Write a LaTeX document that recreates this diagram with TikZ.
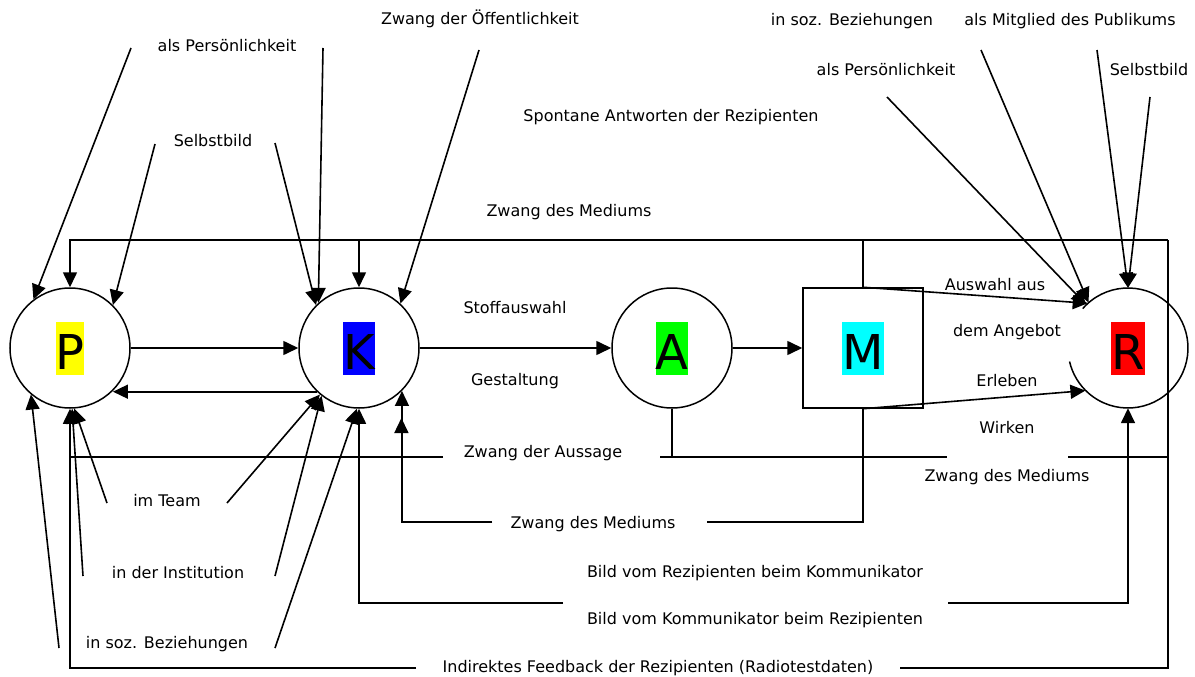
\documentclass[tikz,border=0pt]{standalone}
\usepackage{fontspec}
\setmainfont{DejaVu Sans}
\usetikzlibrary{arrows.meta}
\newcommand{\lblfont}{\fontsize{16}{19}\selectfont}
\newcommand{\bigfont}{\fontsize{48}{56}\selectfont}
\definecolor{cP}{HTML}{FFFF00}
\definecolor{cK}{HTML}{0000FF}
\definecolor{cA}{HTML}{00FF00}
\definecolor{cM}{HTML}{00FFFF}
\definecolor{cR}{HTML}{FF0000}
\tikzset{
  ln/.style={line width=1.6pt},
  arr/.style={ln, -{Triangle[length=15pt,width=14pt]}},
  lbl/.style={inner sep=0pt, font=\lblfont},
  circ/.style={circle, draw, line width=1.5pt, minimum size=120pt, inner sep=0pt},
  circnd/.style={circle, minimum size=120pt, inner sep=0pt},
  boxm/.style={rectangle, draw, line width=1.5pt, minimum width=120pt, minimum height=120pt, inner sep=0pt},
  letter/.style={inner sep=0pt, font=\bigfont, text height=48pt, text depth=5pt}
}
\begin{document}
\begin{tikzpicture}[x=1pt,y=-1pt]
\useasboundingbox (0,0) rectangle (1195,677);
% main nodes
\node[circ] (P) at (70,348) {};
\node[circ] (K) at (359,348) {};
\node[circ] (A) at (672,348) {};
\node[boxm] (M) at (863,348) {};
\node[circnd] (R) at (1128,348) {};
\draw[line width=1.5pt] (R.center) ++(-139:60) arc[start angle=-139, end angle=167, radius=60];
\node[letter, fill=cP] (Pl) at (P.center) {P};
\node[letter, fill=cK] (Kl) at (K.center) {K};
\node[letter, fill=cA] (Al) at (A.center) {A};
\node[letter, fill=cM] (Ml) at (M.center) {M};
\node[letter, fill=cR] (Rl) at (R.center) {R};
% labels
\node[lbl] (t1) at (227,46) {als Persönlichkeit};
\node[lbl] (t2) at (480,19) {Zwang der Öffentlichkeit};
\node[lbl] (t3) at (213,141) {Selbstbild};
\node[lbl] (t4) at (569,212) {Zwang des Mediums};
\node[lbl] (t5) at (671,117) {Spontane Antworten der Rezipienten};
\node[lbl] (t6) at (852,21) {in soz. Beziehungen};
\node[lbl] (t7) at (1070,21) {als Mitglied des Publikums};
\node[lbl] (t8) at (886,70) {als Persönlichkeit};
\node[lbl] (t9) at (1149,70) {Selbstbild};
\node[lbl] (t10) at (515,308) {Stoffauswahl};
\node[lbl] (t11) at (515,381) {Gestaltung};
\node[lbl] (t12) at (995,285) {Auswahl aus};
\node[lbl] (t13) at (1007,332) {dem Angebot};
\node[lbl] (t14) at (1007,381) {Erleben};
\node[lbl] (t15) at (1007,428) {Wirken};
\node[lbl] (t16) at (543,453) {Zwang der Aussage};
\node[lbl] (t17) at (1007,477) {Zwang des Mediums};
\node[lbl] (t18) at (167,501) {im Team};
\node[lbl] (t19) at (593,524) {Zwang des Mediums};
\node[lbl] (t20) at (178,573) {in der Institution};
\node[lbl] (t21) at (755,573) {Bild vom Rezipienten beim Kommunikator};
\node[lbl] (t22) at (755,620) {Bild vom Kommunikator beim Rezipienten};
\node[lbl] (t23) at (167,644) {in soz. Beziehungen};
\node[lbl] (t24) at (658,668) {Indirektes Feedback der Rezipienten (Radiotestdaten)};
% free ends
\coordinate (aplL) at (131,48);
\coordinate (aplR) at (323,48);
\coordinate (zoe) at (479,50);
\coordinate (sbL) at (155,144);
\coordinate (sbR) at (275,143);
\coordinate (rsoz) at (981,50);
\coordinate (rmit) at (1097,50);
\coordinate (rpers) at (887,97);
\coordinate (rself) at (1150,97);
\coordinate (teamL) at (107,503);
\coordinate (teamR) at (227,503);
\coordinate (instL) at (83,576);
\coordinate (instR) at (275,576);
\coordinate (sozL) at (59,648);
\coordinate (sozR) at (275,648);
\coordinate (ftr) at (1168,240);
\coordinate (fbr) at (1168,668);
\coordinate (fbL) at (416,668);
\coordinate (fbR) at (900,668);
\coordinate (ausL) at (443,457);
\coordinate (ausR) at (660,457);
\coordinate (wkL) at (947,457);
\coordinate (wkR) at (1068,457);
\coordinate (zmL) at (492,522);
\coordinate (zmR) at (707,522);
\coordinate (bkL) at (563,603);
\coordinate (bkR) at (948,603);
\coordinate (kmid) at (401.4,418);
% upper inputs
\draw[arr] (aplL) -- (P.127);
\draw[arr] (aplR) -- (K.132);
\draw[arr] (sbL) -- (P.45);
\draw[arr] (sbR) -- (K.135);
\draw[arr] (zoe) -- (K.47);
\draw[arr] (rsoz) -- (R.131);
\draw[arr] (rpers) -- (R.134);
\draw[arr] (rmit) -- (R.north);
\draw[arr] (rself) -- (R.north);
% main chain
\draw[arr] (P.east) -- (K.west);
\draw[arr] (K.226) -- (P.-45 |- K.226);
\draw[arr] (K.east) -- (A.west);
\draw[arr] (A.east) -- (M.west);
\draw[arr] (M.north) -- (R.132);
\draw[arr] (M.south) -- (R.225);
% frame
\draw[arr] (ftr) -| (P.north);
\draw[arr] (K.north |- ftr) -- (K.north);
\draw[ln] (M.north) -- (M.north |- ftr);
\draw[ln] (ftr) -- (fbr) -- (fbR);
\draw[arr] (fbL) -| (P.south);
% Zwang der Aussage
\draw[ln] (A.south) -- (A.south |- ausR);
\draw[ln] (ausR) -- (wkL);
\draw[ln] (wkR) -- (ausR -| fbr);
\draw[ln] (ausL) -- (P.south |- ausL);
% Zwang des Mediums (middle)
\draw[ln] (M.south) |- (zmR);
\draw[arr] (zmL) -| (K.-45);
\draw[arr] (zmL) -| (kmid);
% Bild lines
\draw[arr] (bkL) -| (K.south);
\draw[arr] (bkR) -| (R.south);
% lower inputs
\draw[arr] (teamL) -- (P.-86);
\draw[arr] (instL) -- (P.-88);
\draw[arr] (sozL) -- (P.230);
\draw[arr] (teamR) -- (K.230);
\draw[arr] (instR) -- (K.232);
\draw[arr] (sozR) -- (K.-92);
\end{tikzpicture}
\end{document}
